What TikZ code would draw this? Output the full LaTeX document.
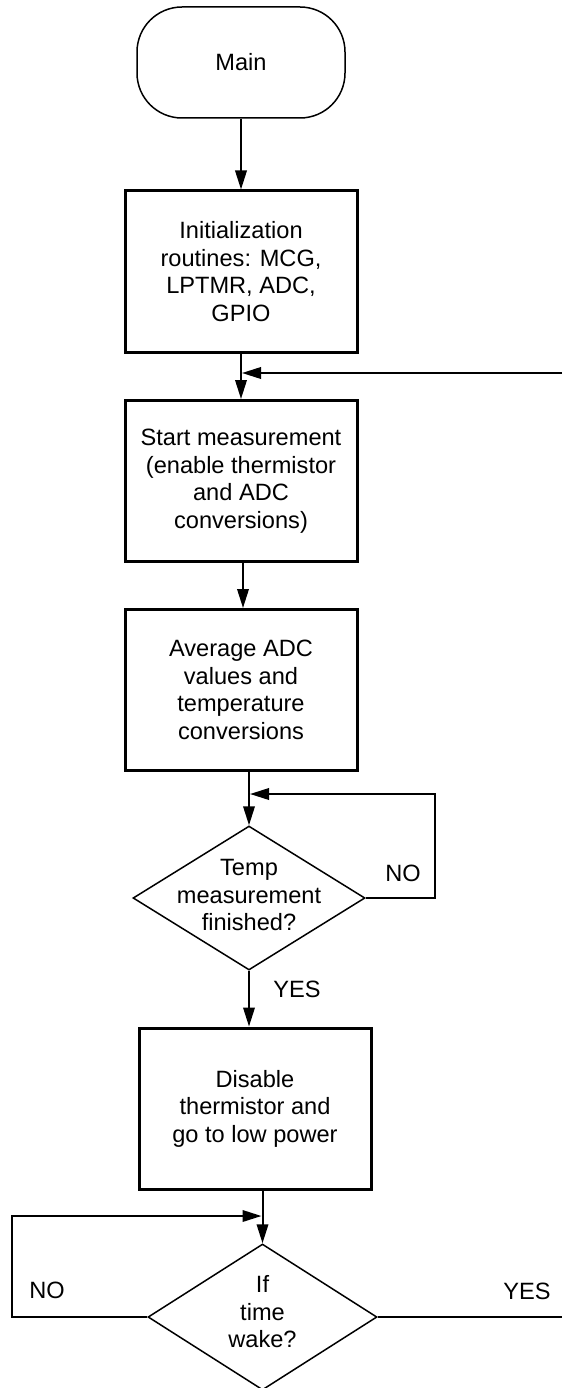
\documentclass[tikz,border=0pt]{standalone}
\usepackage{fontspec}
\setmainfont{Liberation Sans}
\usetikzlibrary{shapes.geometric,arrows.meta,calc}
\newcommand\flowfont{\fontsize{23.6}{27.5}\selectfont}
\begin{document}
\begin{tikzpicture}[x=1pt,y=-1pt,
  box/.style={draw, line width=3pt, minimum width=232pt, minimum height=161pt, align=center, font=\flowfont, inner sep=0pt},
  term/.style={draw, line width=1.5pt, rounded corners=45pt, minimum width=208pt, minimum height=111pt, font=\flowfont, inner sep=0pt},
  dia/.style={draw, shape=diamond, line width=1.5pt, inner sep=0pt},
  arr/.style={line width=2pt, -{Triangle[length=19pt,width=11.5pt]}},
  ln/.style={line width=2pt},
  lbl/.style={font=\flowfont, align=center, inner sep=0pt}]
\useasboundingbox (0,0) rectangle (562,1388);
\node[term] (main) at (241,62.5) {Main};
\node[box] (init) at (241,271.5) {Initialization\\routines: MCG,\\LPTMR, ADC,\\GPIO};
\node[box] (start) at (241,481) {Start measurement\\(enable thermistor\\and ADC\\conversions)};
\node[box] (avg) at (241,690) {Average ADC\\values and\\temperature\\conversions};
\node[dia, minimum width=232pt, minimum height=144pt] (d1) at (249,898) {};
\node[lbl] (d1t) at ([yshift=3pt]d1.center) {Temp\\measurement\\finished?};
\node[box] (dis) at (255,1108.5) {Disable\\thermistor and\\go to low power};
\node[dia, minimum width=229pt, minimum height=146pt] (d2) at (262.5,1317) {};
\node[lbl] (d2t) at ([yshift=5pt]d2.center) {If\\time\\wake?};
% connectors
\draw[arr] (main) -- (init);
\draw[arr] (init) -- (start);
\coordinate (fbR) at (562,373);
\draw[arr] (fbR) -- ([xshift=1pt]fbR -| init.south);
\draw[arr] ([xshift=2pt]start.south) -- ([xshift=2pt]avg.north);
\draw[arr] (avg.south -| d1.north) -- (d1.north);
\coordinate (n1) at (435,794);
\draw[arr] (d1.east) -| (n1) -- ([xshift=1pt]d1.north |- n1);
\node[lbl] (no1) at (403,873) {NO};
\draw[arr] (d1.south) -- (d1.south |- dis.north);
\node[lbl] (yes1) at (297,989) {YES};
\draw[arr] (d2.north |- dis.south) -- (d2.north);
\coordinate (n2) at (12,1216);
\draw[arr] (d2.west) -| (n2) -- ([xshift=-1pt]d2.north |- n2);
\coordinate (yR) at (562,1317);
\draw[ln] (d2.east) -- (yR);
\node[lbl] (no2) at (47,1290) {NO};
\node[lbl] (yes2) at (527,1291) {YES};
\end{tikzpicture}
\end{document}
